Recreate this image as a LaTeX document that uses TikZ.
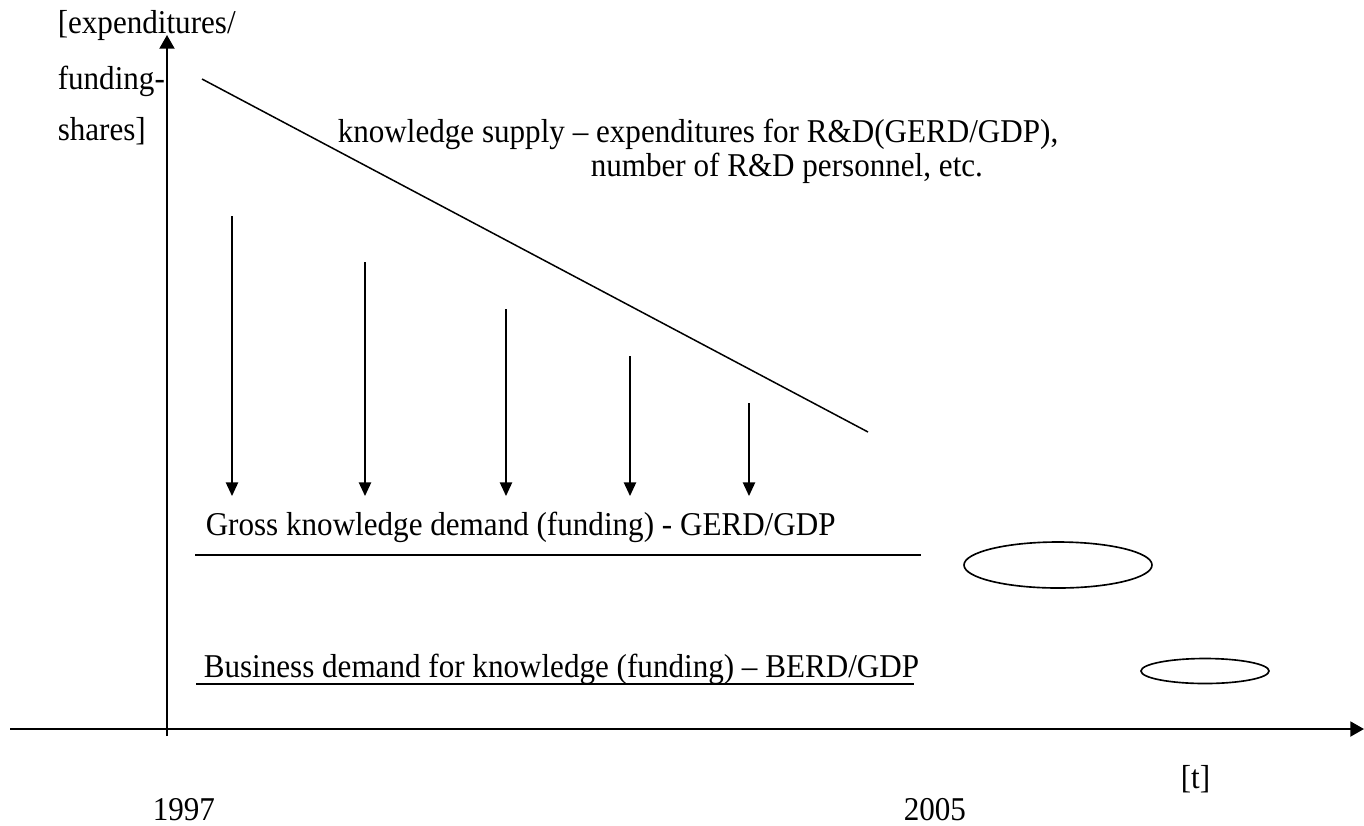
\documentclass[tikz,border=0pt]{standalone}
\usepackage{fontspec}
\setmainfont[FakeStretch=0.935]{Liberation Serif}
\usetikzlibrary{arrows.meta,shapes.geometric}

\begin{document}
\begin{tikzpicture}[x=0.3667pt, y=-0.3667pt, line width=0.55pt,
        every node/.append style={inner sep=0pt, font=\fontsize{12.2}{14}\selectfont},
        axis/.style={line width=0.7pt, -{Triangle[length=5pt,width=5.5pt]}},
        flow/.style={-{Triangle[length=5pt,width=4.5pt]}},
        oval/.style={draw, ellipse, line width=0.6pt}]
      \tikzstyle{label} = [anchor=base west]
      \useasboundingbox (0,0) rectangle (1364,825);
      % axes
      \coordinate (O) at (167,736);
      \coordinate (top) at (167,35);
      \coordinate (left) at (10,729);
      \coordinate (right) at (1364,729);
      \draw[axis] (O) -- (top);
      \draw[axis] (left) -- (right);
      \node (ylab1) [label] at (57,33) {[expenditures/};
      \node (ylab2) [label] at (57,89) {funding-};
      \node (ylab3) [label] at (57,140) {shares]};
      \node (tlab) [label] at (1180,788) {[t]};
      \node (y1997) [label] at (152,820) {1997};
      \node (y2005) [label] at (903,820) {2005};
      % knowledge supply
      \coordinate (s1) at (202,79);
      \coordinate (s2) at (868,432);
      \draw (s1) -- (s2);
      \node (supply) [label] at (337,142) {knowledge supply -- expenditures for R\&D(GERD/GDP),};
      \node (supply2) [label] at (590,176) {number of R\&D personnel, etc.};
      % funding arrows
      \foreach \x/\y [count=\i] in {232/216, 365/262, 506/309, 630/356, 749/403} {
        \coordinate (a\i) at (\x,\y);
        \coordinate (b\i) at (\x,496);
        \draw[flow] (a\i) -- (b\i);
      }
      % demand levels
      \node (gross) [label] at (205,535) {Gross knowledge demand (funding) - GERD/GDP};
      \coordinate (g1) at (195,555);
      \coordinate (g2) at (921,555);
      \draw (g1) -- (g2);
      \node (business) [label] at (203,677) {Business demand for knowledge (funding) -- BERD/GDP};
      \coordinate (d1) at (196,684);
      \coordinate (d2) at (914,684);
      \draw (d1) -- (d2);
      \node (gap1) [oval, minimum width=188*0.3667pt, minimum height=46*0.3667pt] at (1058,565) {};
      \node (gap2) [oval, minimum width=128*0.3667pt, minimum height=25*0.3667pt] at (1205,671) {};
    \end{tikzpicture}
\end{document}
